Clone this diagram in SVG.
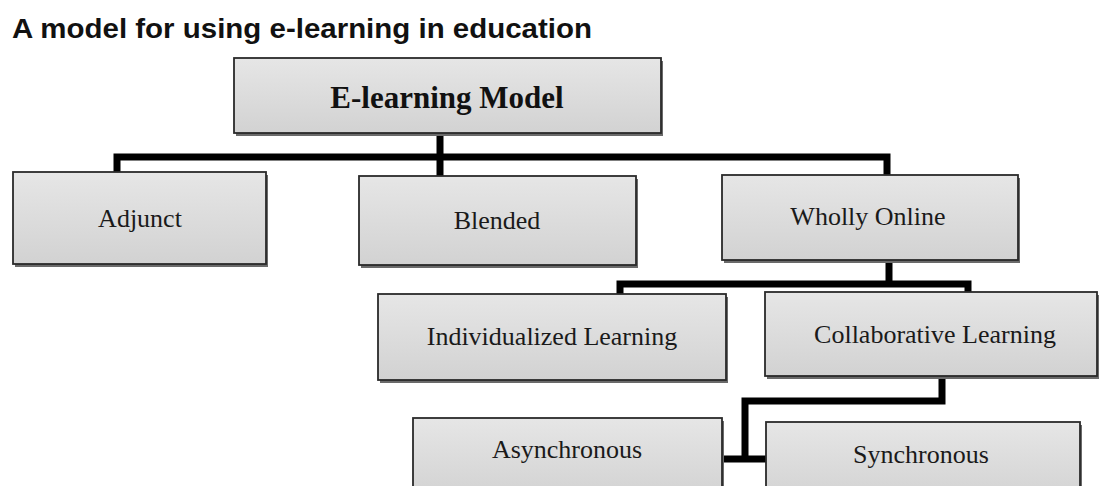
<svg xmlns="http://www.w3.org/2000/svg" width="1101" height="486" viewBox="0 0 1101 486">
<defs>
<linearGradient id="g" x1="0" y1="0" x2="0" y2="1">
<stop offset="0" stop-color="#e6e6e6"/>
<stop offset="0.5" stop-color="#dcdcdc"/>
<stop offset="1" stop-color="#d2d2d2"/>
</linearGradient>
</defs>
<style>
.sh{fill:#6a6a6a}
.bx{fill:url(#g);stroke:#2a2a2a;stroke-width:1.8}
.lb{font-family:"Liberation Serif","Times New Roman",serif;font-size:26px;fill:#1a1a1a;text-anchor:middle}
.tb{font-family:"Liberation Serif","Times New Roman",serif;font-size:31px;font-weight:bold;fill:#111;text-anchor:middle}
.ttl{font-family:"Liberation Sans",Arial,sans-serif;font-size:27px;font-weight:bold;fill:#111}
.cn{fill:none;stroke:#000;stroke-width:7;stroke-linejoin:miter}
</style>
<rect width="1101" height="486" fill="#fff"/>
<text class="ttl" x="12" y="38" textLength="580" lengthAdjust="spacingAndGlyphs">A model for using e-learning in education</text>

<g id="connectors">
<path class="cn" d="M440,133 V178"/>
<path class="cn" d="M117,173 V157 H887 V176"/>
<path class="cn" d="M889,261 V284"/>
<path class="cn" d="M620,296 V284 H968 V293"/>
<path class="cn" d="M942,377 V401 H745 V459"/>
<path class="cn" d="M722,459 H766"/>
</g>

<g id="n-elearning">
<rect class="sh" x="236" y="61" width="427" height="75"/>
<rect class="bx" x="234" y="58" width="427" height="75"/>
<text class="tb" x="447" y="108">E-learning Model</text>
</g>
<g id="n-adjunct">
<rect class="sh" x="15" y="175" width="253" height="92"/>
<rect class="bx" x="13" y="172" width="253" height="92"/>
<text class="lb" x="140" y="227">Adjunct</text>
</g>
<g id="n-blended">
<rect class="sh" x="361" y="179" width="277" height="89"/>
<rect class="bx" x="359" y="176" width="277" height="89"/>
<text class="lb" x="497" y="229">Blended</text>
</g>
<g id="n-wholly">
<rect class="sh" x="724" y="178" width="296" height="85"/>
<rect class="bx" x="722" y="175" width="296" height="85"/>
<text class="lb" x="868" y="225">Wholly Online</text>
</g>
<g id="n-individualized">
<rect class="sh" x="380" y="297" width="348" height="86"/>
<rect class="bx" x="378" y="294" width="348" height="86"/>
<text class="lb" x="552" y="345">Individualized Learning</text>
</g>
<g id="n-collaborative">
<rect class="sh" x="767" y="295" width="332" height="84"/>
<rect class="bx" x="765" y="292" width="332" height="84"/>
<text class="lb" x="935" y="343">Collaborative Learning</text>
</g>
<g id="n-asynchronous">
<rect class="sh" x="415" y="421" width="309" height="80"/>
<rect class="bx" x="413" y="418" width="309" height="80"/>
<text class="lb" x="567" y="458">Asynchronous</text>
</g>
<g id="n-synchronous">
<rect class="sh" x="768" y="425" width="314" height="80"/>
<rect class="bx" x="766" y="422" width="314" height="80"/>
<text class="lb" x="921" y="463">Synchronous</text>
</g>
</svg>
